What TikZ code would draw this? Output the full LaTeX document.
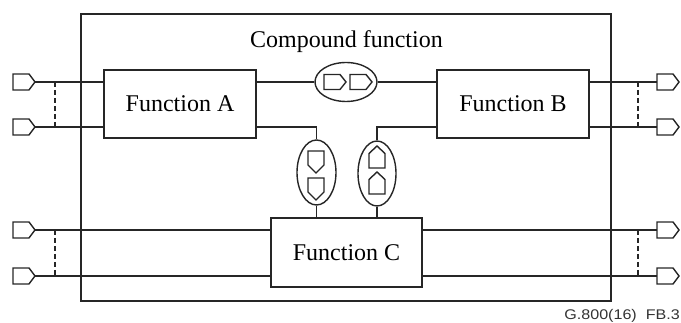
\documentclass[tikz,border=0pt]{standalone}
\usepackage{fontspec}
\setmainfont{Liberation Serif}
\newfontfamily\capfont{Liberation Sans}
\usetikzlibrary{shapes.geometric,calc}
\tikzset{
  ln/.style={line width=1.4pt, draw=black!85},
  fbox/.style={ln, rectangle, inner sep=0pt, font=\fontsize{24}{28}\selectfont},
  oval/.style={ln, ellipse, inner sep=0pt},
  portE/.pic={\draw[ln] (0,0) -- (-6,-8) -- (-22,-8) -- (-22,8) -- (-6,8) -- cycle;},
  smallE/.pic={\draw[ln] (0,0) -- (-6,-7.5) -- (-22,-7.5) -- (-22,7.5) -- (-6,7.5) -- cycle;},
  smallD/.pic={\draw[ln] (0,0) -- (-8,-8) -- (-8,-22) -- (8,-22) -- (8,-8) -- cycle;},
  smallU/.pic={\draw[ln] (0,0) -- (-8,7.5) -- (-8,22) -- (8,22) -- (8,7.5) -- cycle;},
  dsh/.style={ln, dash pattern=on 5pt off 3pt}
}
\begin{document}
\begin{tikzpicture}[x=1pt,y=-1pt]
\useasboundingbox (0,0) rectangle (681,323);
% outer compound box
\node[ln, rectangle, inner sep=0pt, minimum width=530pt, minimum height=287pt, line width=1.5pt] (outer) at (346,157.5) {};
\node[font=\fontsize{24}{28}\selectfont] (title) at (346.5,42) {Compound function};
% function boxes
\node[fbox, minimum width=152pt, minimum height=68pt] (A) at (180,104) {Function A};
\node[fbox, minimum width=152pt, minimum height=68pt] (B) at (513,104) {Function B};
\node[fbox, minimum width=151pt, minimum height=69pt] (C) at (346.5,252.5) {Function C};
% ellipses
\node[oval, minimum width=62pt, minimum height=39pt] (E1) at (346,82) {};
\node[oval, minimum width=39pt, minimum height=65pt] (E2) at (316.5,172.5) {};
\node[oval, minimum width=38pt, minimum height=65pt] (E3) at (377,173.5) {};
% port coordinates
\coordinate (pl1) at (35,82);
\coordinate (pl2) at (35,127);
\coordinate (pl3) at (35,230);
\coordinate (pl4) at (35,276);
\coordinate (pr1) at (657,82);
\coordinate (pr2) at (657,127);
\coordinate (pr3) at (657,230);
\coordinate (pr4) at (657,276);
\coordinate (dl) at (55,0);
\coordinate (dr) at (638,0);
% port symbols
\pic at (pl1) {portE};
\pic at (pl2) {portE};
\pic at (pl3) {portE};
\pic at (pl4) {portE};
\pic at ($(pr1)+(22,0)$) {portE};
\pic at ($(pr2)+(22,0)$) {portE};
\pic at ($(pr3)+(22,0)$) {portE};
\pic at ($(pr4)+(22,0)$) {portE};
% symbols inside ellipses
\pic at (346,82) {smallE};
\pic at (372,82) {smallE};
\pic at (316,173) {smallD};
\pic at (316,200) {smallD};
\pic at (377,146) {smallU};
\pic at (377,172) {smallU};
% connectors
\draw[ln] (pl1) -- (pl1 -| A.west);
\draw[ln] (pl2) -- (pl2 -| A.west);
\draw[ln] (pl3) -- (pl3 -| C.west);
\draw[ln] (pl4) -- (pl4 -| C.west);
\draw[ln] (pr1 -| B.east) -- (pr1);
\draw[ln] (pr2 -| B.east) -- (pr2);
\draw[ln] (pr3 -| C.east) -- (pr3);
\draw[ln] (pr4 -| C.east) -- (pr4);
\draw[ln] (E1.west -| A.east) -- (E1.west);
\draw[ln] (E1.east) -- (E1.east -| B.west);
\draw[ln] (pl2 -| A.east) -| (E2.north);
\draw[ln] (E2.south) -- (E2.south |- C.north);
\draw[ln] (pr2 -| B.west) -| (E3.north);
\draw[ln] (E3.south) -- (E3.south |- C.north);
% dashed ties
\draw[dsh] (dl |- pl1) -- (dl |- pl2);
\draw[dsh] (dl |- pl3) -- (dl |- pl4);
\draw[dsh] (dr |- pr1) -- (dr |- pr2);
\draw[dsh] (dr |- pr3) -- (dr |- pr4);
% caption
\node[anchor=base east, inner sep=0pt, font=\capfont\fontsize{14}{16}\selectfont, text=black!80] (cap) at (680,320) {\scalebox{1.15}[1]{G.800(16)\ \ FB.3}};
\end{tikzpicture}
\end{document}
